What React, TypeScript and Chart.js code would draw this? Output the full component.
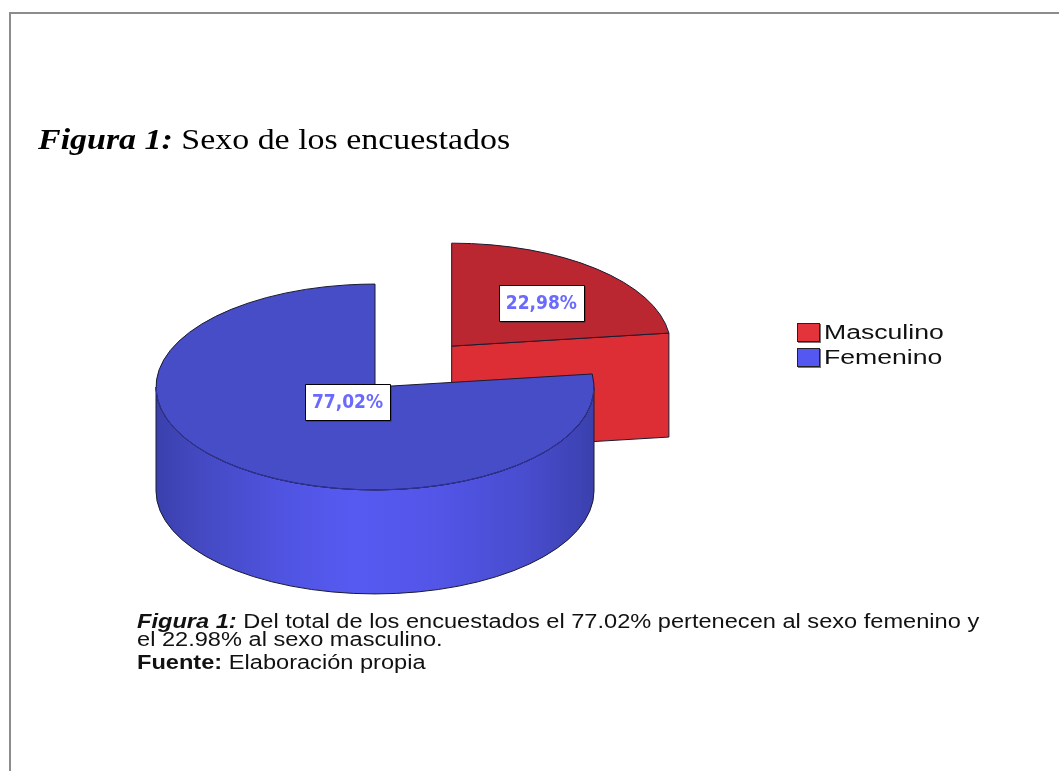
import { useEffect, useRef } from "react";
import { Chart, registerables } from "chart.js";

Chart.register(...registerables);

// ---------- data ----------
const categories = ["Masculino", "Femenino"];
const percentages = [22.98, 77.02];
const explodeOffsets = [116, 0];

// ---------- styling ----------
const W = 1059;
const H = 771;
const RADIUS = 219;
const TILT = 0.47;
const DEPTH = 104;
const LABEL_FRAC_X = [0.62, 0.19];
const LABEL_FRAC_Y = [0.56, 0.19];
const LEGEND_COLORS = ["#E3343B", "#5458F0"];
const TOP_COLORS = ["#BA2730", "#474CC7"];
const FACE_COLORS = ["#DD2E35", "#5053E2"];
const WALL_STOPS: [number, string][][] = [
  [
    [0, "#A8222A"],
    [0.5, "#DD2E35"],
    [1, "#A8222A"],
  ],
  [
    [0, "#3A40AC"],
    [0.1, "#4449C2"],
    [0.3, "#5054E2"],
    [0.45, "#575AF1"],
    [0.65, "#5255E6"],
    [0.85, "#484CCD"],
    [1, "#3B40AE"],
  ],
];
const OUTLINE = "#1A1A30";
const LABEL_FONT = 'bold 19px "DejaVu Sans Condensed", "Liberation Sans Narrow", "DejaVu Sans", sans-serif';

function frontRanges(s: number, e: number): [number, number][] {
  const out: [number, number][] = [];
  for (let k = -1; k <= 1; k++) {
    const lo = Math.max(s, 2 * Math.PI * k);
    const hi = Math.min(e, 2 * Math.PI * k + Math.PI);
    if (hi > lo) out.push([lo, hi]);
  }
  return out;
}

function drawSlice(ctx: CanvasRenderingContext2D, sl: any) {
  const { cx, cy, rx, ry, s, e, i } = sl;
  const D = DEPTH;
  ctx.lineWidth = 1;
  ctx.lineJoin = "round";
  // outer wall
  for (const [a, b] of frontRanges(s, e)) {
    ctx.beginPath();
    ctx.ellipse(cx, cy, rx, ry, 0, a, b, false);
    ctx.lineTo(cx + rx * Math.cos(b), cy + ry * Math.sin(b) + D);
    ctx.ellipse(cx, cy + D, rx, ry, 0, b, a, true);
    ctx.closePath();
    const g = ctx.createLinearGradient(cx - rx, 0, cx + rx, 0);
    WALL_STOPS[i].forEach(([o, c]) => g.addColorStop(o, c));
    ctx.fillStyle = g;
    ctx.fill();
    ctx.strokeStyle = OUTLINE;
    ctx.stroke();
  }
  // radial cut faces
  const faces: number[] = [];
  if (Math.cos(s) < -1e-6) faces.push(s);
  if (Math.cos(e) > 1e-6) faces.push(e);
  for (const t of faces) {
    const px = cx + rx * Math.cos(t);
    const py = cy + ry * Math.sin(t);
    ctx.beginPath();
    ctx.moveTo(cx, cy);
    ctx.lineTo(px, py);
    ctx.lineTo(px, py + D);
    ctx.lineTo(cx, cy + D);
    ctx.closePath();
    ctx.fillStyle = FACE_COLORS[i];
    ctx.fill();
    ctx.strokeStyle = OUTLINE;
    ctx.stroke();
  }
  // top face
  ctx.beginPath();
  ctx.moveTo(cx, cy);
  ctx.ellipse(cx, cy, rx, ry, 0, s, e, false);
  ctx.closePath();
  ctx.fillStyle = TOP_COLORS[i];
  ctx.fill();
  ctx.strokeStyle = OUTLINE;
  ctx.stroke();
  // softer front rim line of top face
  for (const [a, b] of frontRanges(s, e)) {
    ctx.beginPath();
    ctx.ellipse(cx, cy, rx, ry, 0, a, b, false);
    ctx.strokeStyle = "#3034A0";
    ctx.stroke();
  }
}

function drawLabel(ctx: CanvasRenderingContext2D, sl: any, v: number) {
  const txt = v.toFixed(2).replace(".", ",") + "%";
  const x = sl.cx + Math.cos(sl.mid) * sl.rx * LABEL_FRAC_X[sl.i];
  const y = sl.cy + Math.sin(sl.mid) * sl.ry * LABEL_FRAC_Y[sl.i];
  ctx.font = LABEL_FONT;
  const w = Math.round(ctx.measureText(txt).width + 14);
  const h = 36;
  const bx = Math.round(x - w / 2) + 0.5;
  const by = Math.round(y - h / 2) + 0.5;
  ctx.fillStyle = "#333";
  ctx.fillRect(bx + 1, by + 1, w, h);
  ctx.fillStyle = "#FFFFFF";
  ctx.fillRect(bx, by, w, h);
  ctx.lineWidth = 1;
  ctx.strokeStyle = "#000";
  ctx.strokeRect(bx, by, w, h);
  ctx.fillStyle = "#6A6AFF";
  ctx.textAlign = "center";
  ctx.textBaseline = "middle";
  ctx.fillText(txt, x, y + 1);
}

const pie3d = {
  id: "pie3d",
  beforeDatasetsDraw(chart: any) {
    const ctx = chart.ctx as CanvasRenderingContext2D;
    const meta = chart.getDatasetMeta(0);
    const slices = meta.data.map((el: any, i: number) => {
      const p = el.getProps(["x", "y", "startAngle", "endAngle", "outerRadius"], true);
      const off = el.options.offset || 0;
      const mid = (p.startAngle + p.endAngle) / 2;
      const rx = p.outerRadius;
      const ry = rx * TILT;
      return {
        i,
        s: p.startAngle,
        e: p.endAngle,
        mid,
        rx,
        ry,
        cx: p.x + Math.cos(mid) * off,
        cy: p.y + Math.sin(mid) * off * TILT,
      };
    });
    const order = [...slices].sort((a: any, b: any) => a.cy - b.cy);
    ctx.save();
    for (const sl of order) drawSlice(ctx, sl);
    for (const sl of slices) drawLabel(ctx, sl, chart.data.datasets[0].data[sl.i]);
    ctx.restore();
    return false;
  },
};

export default function App() {
  const ref = useRef<HTMLCanvasElement>(null);
  useEffect(() => {
    const chart = new Chart(ref.current as HTMLCanvasElement, {
      type: "pie",
      data: {
        labels: categories,
        datasets: [
          {
            data: percentages,
            backgroundColor: LEGEND_COLORS,
            offset: explodeOffsets,
            radius: RADIUS,
            borderWidth: 0,
          } as any,
        ],
      },
      options: {
        animation: false,
        responsive: false,
        events: [],
        layout: { padding: { left: 0, right: 309, top: 3, bottom: 0 } },
        plugins: {
          legend: { display: false },
          tooltip: { enabled: false },
          title: { display: false },
        },
      },
      plugins: [pie3d],
    });
    return () => chart.destroy();
  }, []);

  const serif = '"Liberation Serif", "Times New Roman", serif';
  const sans = '"Liberation Sans", Arial, sans-serif';

  return (
    <div style={{ position: "absolute", left: 0, top: 0, width: W, height: H, background: "#fff", overflow: "hidden" }}>
      <div
        style={{
          position: "absolute",
          left: 9,
          top: 12,
          width: W - 9,
          height: H - 12,
          borderTop: "2px solid #8C8C8C",
          borderLeft: "2px solid #8C8C8C",
          boxSizing: "border-box",
        }}
      />
      <canvas ref={ref} width={W} height={H} style={{ position: "absolute", left: 0, top: 0, width: W, height: H }} />
      <div
        style={{
          position: "absolute",
          left: 38,
          top: 125,
          font: `29px ${serif}`,
          lineHeight: "29px",
          whiteSpace: "nowrap",
          transform: "scaleX(1.17)",
          transformOrigin: "left top",
          color: "#000",
        }}
      >
        <b>
          <i>Figura 1:</i>
        </b>{" "}
        Sexo de los encuestados
      </div>
      <div style={{ position: "absolute", left: 797, top: 320 }}>
        {categories.map((c, i) => (
          <div key={c} style={{ display: "flex", alignItems: "center", height: 25 }}>
            <span
              style={{
                display: "inline-block",
                width: 21,
                height: 17,
                background: LEGEND_COLORS[i],
                border: "1px solid #222",
                boxShadow: "1px 1px 0 #777",
              }}
            />
            <span
              style={{
                marginLeft: 4,
                font: `20px ${sans}`,
                color: "#111",
                whiteSpace: "nowrap",
                display: "inline-block",
                transform: "scaleX(1.33)",
                transformOrigin: "left center",
              }}
            >
              {c}
            </span>
          </div>
        ))}
      </div>
      <div
        style={{
          position: "absolute",
          left: 137,
          top: 612,
          font: `20px ${sans}`,
          lineHeight: "18px",
          whiteSpace: "nowrap",
          transform: "scaleX(1.18)",
          transformOrigin: "left top",
          color: "#111",
        }}
      >
        <div>
          <b>
            <i>Figura 1:</i>
          </b>{" "}
          Del total de los encuestados el 77.02% pertenecen al sexo femenino y
        </div>
        <div>el 22.98% al sexo masculino.</div>
        <div style={{ marginTop: 5 }}>
          <b>Fuente:</b> Elaboración propia
        </div>
      </div>
    </div>
  );
}
